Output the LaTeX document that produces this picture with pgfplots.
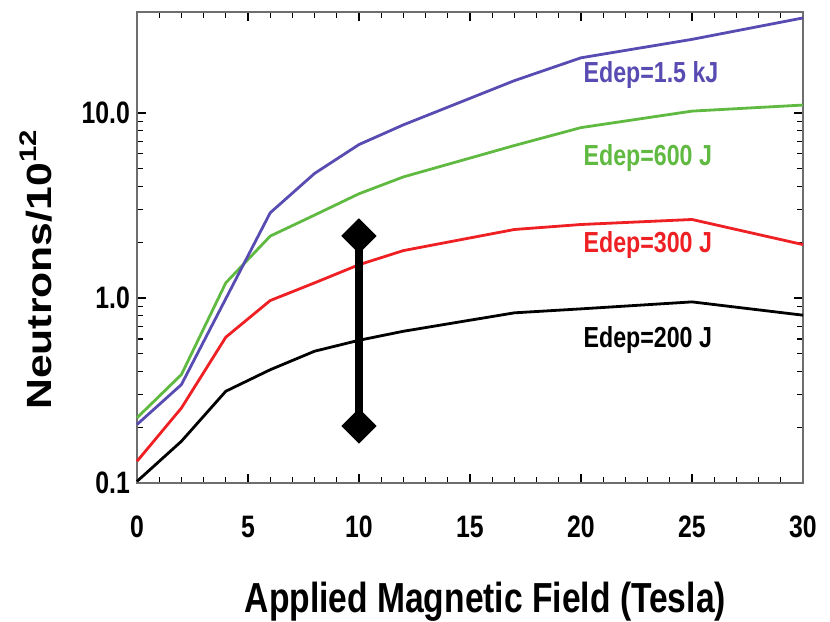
\documentclass[border=0pt]{standalone}
\usepackage{fontspec}
\setmainfont{Liberation Sans}[FakeStretch=0.8]
\newfontfamily\widefont{Liberation Sans}[FakeStretch=1.22]
\usepackage{pgfplots}
\pgfplotsset{compat=1.18}
\definecolor{cblue}{RGB}{88,76,178}
\definecolor{cgreen}{RGB}{96,186,66}
\definecolor{cred}{RGB}{238,32,36}
\definecolor{framegray}{RGB}{110,110,110}
\begin{document}
\begin{tikzpicture}
\begin{axis}[
  scale only axis,
  width=333pt, height=235.5pt,
  ymode=log,
  xmin=0, xmax=30, ymin=0.1, ymax=35,
  xtick={0,5,...,30},
  minor x tick num=4,
  ytick={0.1,1,10},
  yticklabels={0.1,1.0,10.0},
  /pgf/number format/assume math mode=true,
  tick align=inside,
  axis line style={framegray, line width=1.2pt},
  major tick style={black, line width=0.8pt},
  minor tick style={black, line width=0.6pt},
  major tick length=4.5pt, minor tick length=2.8pt,
  tick label style={font=\fontsize{15.5}{15.5}\selectfont\bfseries},
  xticklabel style={yshift=-13pt},
  xlabel={Applied Magnetic Field (Tesla)},
  xlabel style={at={(rel axis cs:0.523,-0.274)}, anchor=base,
    font=\fontsize{21}{21}\selectfont\bfseries},
  ylabel={Neutrons/10\raisebox{0.42em}{\fontsize{12}{12}\selectfont 12}},
  ylabel style={at={(rel axis cs:-0.152,0.452)}, anchor=center,
    font=\widefont\fontsize{17.5}{17.5}\selectfont\bfseries},
  clip=false,
]
% Edep = 200 J
\addplot[black, line width=1.4pt] coordinates {
  (0,0.102)(2,0.168)(4,0.313)(6,0.409)(8,0.515)(10,0.59)(12,0.66)
  (17,0.83)(20,0.872)(25,0.951)(30,0.806)};
% Edep = 300 J
\addplot[cred, line width=1.4pt] coordinates {
  (0,0.131)(2,0.254)(4,0.613)(6,0.967)(8,1.205)(10,1.51)(12,1.80)
  (17,2.34)(20,2.49)(25,2.65)(30,1.94)};
% Edep = 600 J
\addplot[cgreen, line width=1.4pt] coordinates {
  (0,0.225)(2,0.385)(4,1.205)(6,2.155)(8,2.8)(10,3.65)(12,4.5)
  (17,6.65)(20,8.31)(25,10.2)(30,11.0)};
% Edep = 1.5 kJ
\addplot[cblue, line width=1.4pt] coordinates {
  (0,0.207)(2,0.34)(6,2.88)(8,4.7)(10,6.73)(12,8.6)
  (17,14.9)(20,19.8)(25,24.9)(30,32.5)};
% range bar at 10 T
\addplot[black, line width=4pt, mark=square*, mark size=6pt,
  mark options={rotate=45, line width=0.5pt}] coordinates {(10,0.203)(10,2.16)};

\node[anchor=base west, inner sep=0, text=cblue, font=\fontsize{14.5}{14.5}\selectfont\bfseries]
  at (axis cs:20.1,14.5) {Edep=1.5 kJ};
\node[anchor=base west, inner sep=0, text=cgreen, font=\fontsize{14.5}{14.5}\selectfont\bfseries]
  at (axis cs:20.1,5.17) {Edep=600 J};
\node[anchor=base west, inner sep=0, text=cred, font=\fontsize{14.5}{14.5}\selectfont\bfseries]
  at (axis cs:20.1,1.75) {Edep=300 J};
\node[anchor=base west, inner sep=0, text=black, font=\fontsize{14.5}{14.5}\selectfont\bfseries]
  at (axis cs:20.1,0.537) {Edep=200 J};
\end{axis}
\pgfresetboundingbox
\path[use as bounding box] ([shift={(-68.5pt,-69.5pt)}]current axis.south west)
  rectangle ([shift={(13.5pt,6pt)}]current axis.north east);
\end{tikzpicture}
\end{document}
